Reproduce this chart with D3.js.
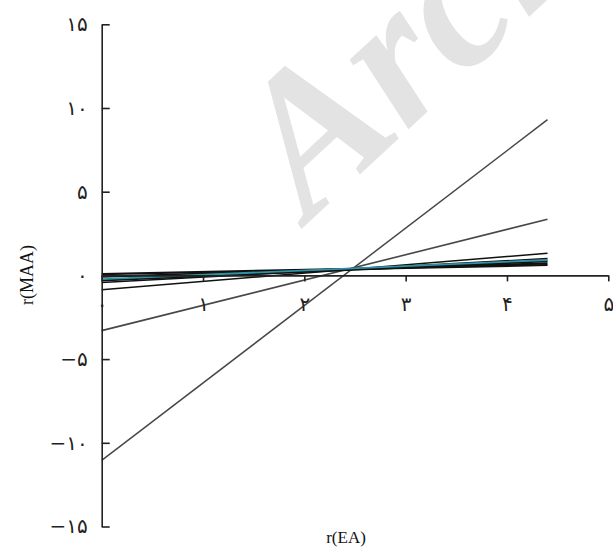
<!DOCTYPE html>
<html>
<head>
<meta charset="utf-8">
<script src="https://cdn.jsdelivr.net/npm/d3@7"></script>
<style>
  body { margin: 0; background: #fff; }
  svg { display: block; }
</style>
</head>
<body>
<svg width="613" height="547"></svg>
<script>
const X_TICKS = [0, 1, 2, 3, 4, 5];
const Y_TICKS = [-15, -10, -5, 0, 5, 10, 15];
const X_VALUES = [0, 4.4];

// each line: value at x=0 and at the last x
const steepLine = [-11.05, 9.3];
const midLine = [-3.3, 3.35];
const lowLine = [-0.85, 1.32];
const cluster1 = [0.08, 0.62];
const cluster2 = [-0.08, 0.72];
const cluster3 = [-0.3, 0.85];
const cluster4 = [-0.42, 1.0];
const tealLine = [-0.22, 0.92];

const GRAY = '#474747';
const BLACK = '#111';
const TEAL = '#2f93a8';

const series = [
    { vals: steepLine, color: GRAY, w: 1.5 },
    { vals: midLine, color: GRAY, w: 1.6 },
    { vals: lowLine, color: BLACK, w: 1.5 },
    { vals: cluster1, color: BLACK, w: 2.2 },
    { vals: cluster2, color: BLACK, w: 2.2 },
    { vals: cluster3, color: BLACK, w: 2.2 },
    { vals: cluster4, color: BLACK, w: 1.6 },
    { vals: tealLine, color: TEAL, w: 1.8 }
];

const faDigits = '۰۱۲۳۴۵۶۷۸۹';
const toFa = (n) => (n < 0 ? '\u2212' : '') +
    String(Math.abs(n)).replace(/\d/g, d => faDigits[+d]);

const FONT = '"DejaVu Sans", serif';

var svg = d3.select('svg');

// watermark
svg.append('text')
    .attr('transform', 'translate(309,222) rotate(-43)')
    .attr('font-family', '"Liberation Serif", serif')
    .attr('font-weight', 'bold')
    .attr('font-style', 'italic')
    .attr('font-size', 198)
    .attr('fill', '#e3e3e3')
    .text('Archive');

var x = d3.scaleLinear()
    .domain([0, 5])
    .range([101.7, 608.3]);

var y = d3.scaleLinear()
    .domain([-15, 15])
    .range([526.5, 24.3]);

/* lines */
var line = d3.line()
    .x((d, i) => x(X_VALUES[i]))
    .y(d => y(d));

series.forEach(s => {
    svg.append('path')
        .datum(s.vals)
        .attr('fill', 'none')
        .attr('stroke', s.color)
        .attr('stroke-width', s.w)
        .attr('d', line);
});

/* Y axis */
var yAxis = svg.append('g')
    .attr('transform', 'translate(' + x(0) + ',0)')
    .call(d3.axisLeft(y)
        .tickValues(Y_TICKS)
        .tickSizeInner(-8)
        .tickSizeOuter(0)
        .tickPadding(14)
        .tickFormat(toFa));

/* X axis */
var xAxis = svg.append('g')
    .attr('transform', 'translate(0,' + y(0) + ')')
    .call(d3.axisBottom(x)
        .tickValues(X_TICKS)
        .tickSizeInner(6)
        .tickSizeOuter(0)
        .tickFormat(toFa));

xAxis.selectAll('text')
    .attr('y', 29)
    .attr('dy', '0.35em');

[yAxis, xAxis].forEach(g => {
    g.selectAll('path, line')
        .attr('stroke', '#222')
        .attr('stroke-width', 1.6);
    g.selectAll('text')
        .attr('font-family', FONT)
        .attr('font-size', 20)
        .attr('fill', '#222');
});

/* axis titles */
svg.append('text')
    .attr('x', 346)
    .attr('y', 543)
    .attr('text-anchor', 'middle')
    .attr('font-family', '"Liberation Serif", serif')
    .attr('font-size', 17)
    .attr('fill', '#111')
    .text('r(EA)');

svg.append('text')
    .attr('transform', 'translate(33,275) rotate(-90)')
    .attr('text-anchor', 'middle')
    .attr('font-family', '"Liberation Serif", serif')
    .attr('font-size', 18)
    .attr('fill', '#111')
    .text('r(MAA)');
</script>
</body>
</html>
